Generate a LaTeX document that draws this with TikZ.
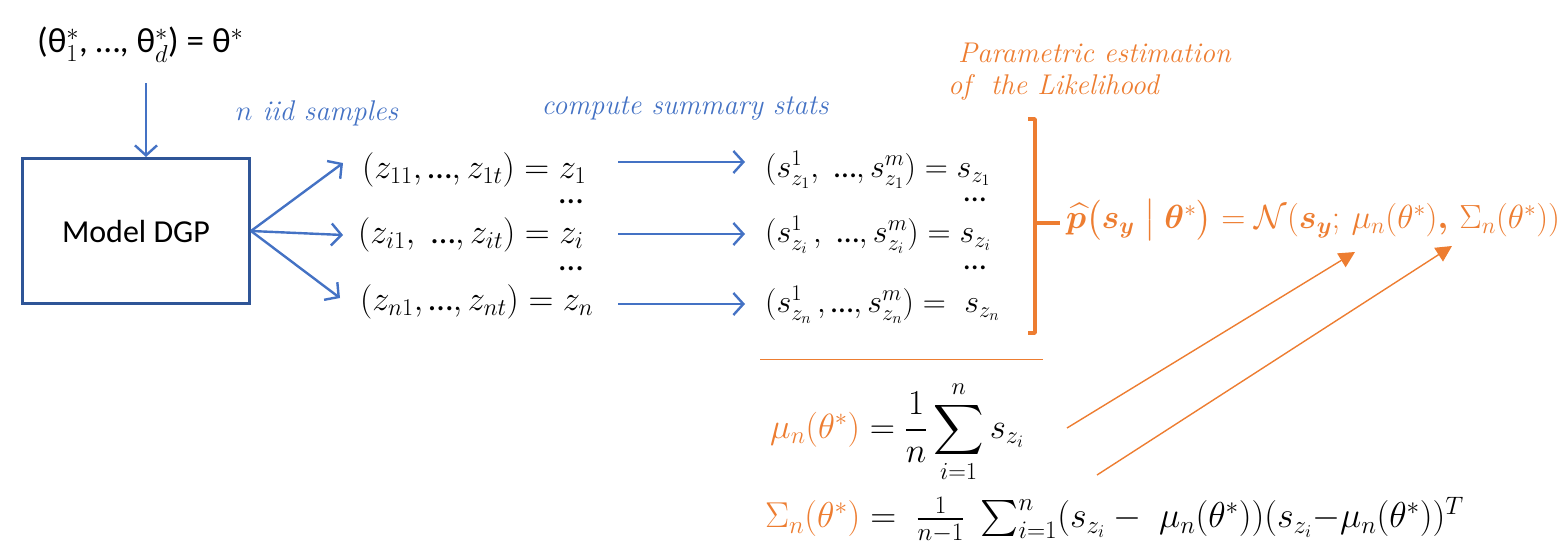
\RequirePackage{fix-cm}
\documentclass[tikz,border=0pt]{standalone}
\usepackage{amsmath,amssymb,bm}
\usepackage[no-math]{fontspec}
\newfontfamily\calibri{Carlito}
\usetikzlibrary{arrows.meta}
\definecolor{myblue}{HTML}{4472C4}
\definecolor{boxblue}{HTML}{2F5597}
\definecolor{myorange}{HTML}{ED7D31}
\newcommand{\mydots}{\text{\calibri …}}
\tikzset{
  mathtxt/.style={inner sep=0pt, font=\fontsize{32}{38}\selectfont},
  ztxt/.style={inner sep=0pt, font=\fontsize{34.5}{40}\selectfont},
  bluelabel/.style={inner sep=0pt, text=myblue, font=\fontsize{28.5}{34}\selectfont\itshape},
  orlabel/.style={inner sep=0pt, text=myorange, font=\fontsize{28.5}{32}\selectfont\itshape, align=left},
  bluearrow/.style={draw=myblue, line width=2.4pt, -{Straight Barb[length=10pt,width=22pt,line width=2.4pt]}},
  orarrow/.style={draw=myorange, line width=1.4pt, -{Triangle[length=16pt,width=16pt]}},
  dgpbox/.style={draw=boxblue, line width=3pt, minimum width=227pt, minimum height=145pt, font=\calibri\fontsize{32}{36}\selectfont},
}
\begin{document}
\begin{tikzpicture}[x=1pt,y=-1pt]
\useasboundingbox (0,0) rectangle (1563,557);
% theta
\node[inner sep=0pt, anchor=west, font=\calibri\fontsize{35}{40}\selectfont] (theta) at (37,45) {(θ$^*_1$, …, θ$^*_d$) = θ$^*$};
\coordinate (thetaout) at (146,83);
% model box
\node[dgpbox] (dgp) at (136,231) {Model DGP};
\draw[bluearrow] (thetaout) -- (dgp.north -| thetaout);
% labels
\node[bluelabel] (niid) at (317,113) {$n$ iid samples};
\node[bluelabel] (css) at (685,108) {compute summary stats};
% samples
\node[ztxt, anchor=west] (z1) at (362,170) {$(z_{11},\mydots,z_{1t}) = z_1$};
\node[ztxt] (d1) at (571,202) {\calibri …};
\node[ztxt, anchor=west] (zi) at (358,235) {$(z_{i1},\ \mydots,z_{it}) = z_i$};
\node[ztxt] (d2) at (571,269) {\calibri …};
\node[ztxt, anchor=west] (zn) at (360,302) {$(z_{n1},\mydots,z_{nt}) = z_n$};
\coordinate (a1) at (343,163);
\coordinate (a2) at (343,235);
\coordinate (a3) at (340,298);
\draw[bluearrow] (dgp.east) -- (a1);
\draw[bluearrow] (dgp.east) -- (a2);
\draw[bluearrow] (dgp.east) -- (a3);
% stats
\node[mathtxt, anchor=west] (s1) at (765,170) {$(s^1_{z_1},\ \mydots,s^m_{z_1}) = s_{z_1}$};
\node[mathtxt] (d3) at (975,200) {\calibri …};
\node[mathtxt, anchor=west] (si) at (765,235) {$(s^1_{z_i}\,,\ \mydots,s^m_{z_i}) = s_{z_i}$};
\node[mathtxt] (d4) at (975,268) {\calibri …};
\node[mathtxt, anchor=west] (sn) at (765,305) {$(s^1_{z_n}\,,\mydots,s^m_{z_n}) =\ s_{z_n}$};
\coordinate (b1s) at (618,162); \coordinate (b1e) at (745,162);
\coordinate (b2s) at (618,234); \coordinate (b2e) at (745,234);
\coordinate (b3s) at (618,304); \coordinate (b3e) at (745,304);
\draw[bluearrow] (b1s) -- (b1e);
\draw[bluearrow] (b2s) -- (b2e);
\draw[bluearrow] (b3s) -- (b3e);
% bracket
\draw[draw=myorange, line width=3.5pt, line join=round] (1028,119) -- (1035,119) -- (1035,333) -- (1028,333);
\draw[draw=myorange, line width=3.5pt] (1035,223) -- (1060,223);
\node[orlabel, anchor=west] (param) at (948,72) {\ Parametric estimation\\of\ \ the Likelihood};
\node[mathtxt, text=myorange, anchor=west, font=\fontsize{33.5}{38}\selectfont] (lik) at (1066,220) {$\widehat{\bm{p}}\bigl(\bm{s_y}\bigm|\bm{\theta}^*\bigr) = \mathcal{N}(\bm{s_y};\,\mu_n(\theta^*)\bm{,}\,\Sigma_n(\theta^*))$};
% rule
\draw[draw=myorange, line width=0.8pt] (760,359) -- (1043,359);
% mu
\node[mathtxt, anchor=west, font=\fontsize{35}{40}\selectfont] (mu) at (770,432) {$\textcolor{myorange}{\mu_n(\theta^*)} = \displaystyle\frac{1}{n}\sum_{i=1}^{n} s_{z_i}$};
\node[mathtxt, anchor=west, font=\fontsize{36}{40}\selectfont] (sig) at (765,520) {$\textcolor{myorange}{\Sigma_n(\theta^*)} = \;\frac{1}{n-1}\;\sum_{i=1}^{n}(s_{z_i}-\;\mu_n(\theta^*))(s_{z_i}{-}\mu_n(\theta^*))^T$};
\coordinate (m1) at (1067,428); \coordinate (m2) at (1355,252);
\coordinate (g1) at (1097,475); \coordinate (g2) at (1452,246);
\draw[orarrow] (m1) -- (m2);
\draw[orarrow] (g1) -- (g2);
\end{tikzpicture}
\end{document}
